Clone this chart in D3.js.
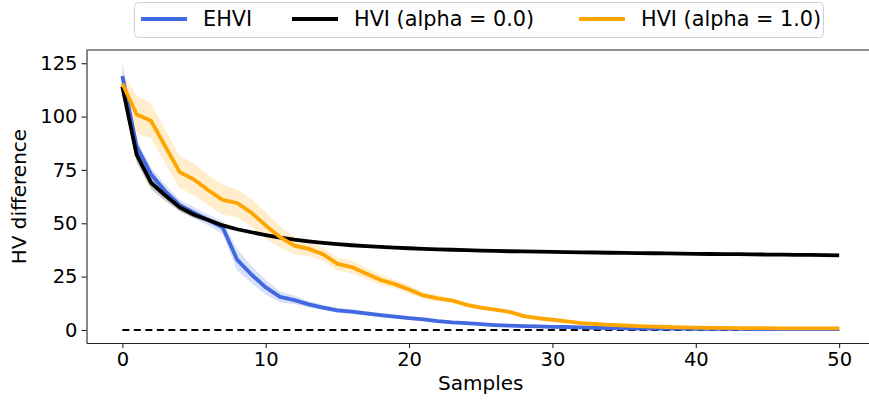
<!DOCTYPE html>
<html>
<head>
<meta charset="utf-8">
<script src="https://cdn.jsdelivr.net/npm/d3@7"></script>
<style>
  body { margin: 0; background: #fff; }
  text { font-family: "DejaVu Sans", sans-serif; fill: #000; }
</style>
</head>
<body>
<div id="chart"></div>
<script>
// samples 0..50
const samples = d3.range(0, 51);

// EHVI mean and half band width
const ehviMean = [119, 86, 73, 65, 58.5, 55, 51.5, 48, 33, 26, 20, 15.5, 14, 12, 10.5, 9.2, 8.6, 7.8, 7, 6.3,
  5.6, 5, 4.2, 3.6, 3.2, 2.7, 2.3, 2.0, 1.8, 1.7, 1.5, 1.4, 1.2, 1.0, 0.9, 0.8, 0.7, 0.7, 0.6, 0.6,
  0.5, 0.5, 0.5, 0.5, 0.4, 0.4, 0.4, 0.4, 0.4, 0.4, 0.4];
const ehviSpread = [6.5, 3, 3, 3, 2.5, 2.5, 2.5, 3, 5, 4, 3.5, 2.5, 2, 1.5, 1.3, 1.2, 1, 1, 0.9, 0.9,
  0.8, 0.8, 0.7, 0.7, 0.6, 0.6, 0.5, 0.5, 0.5, 0.5, 0.4, 0.4, 0.4, 0.4, 0.3, 0.3, 0.3, 0.3, 0.3, 0.3,
  0.3, 0.3, 0.3, 0.3, 0.3, 0.3, 0.3, 0.3, 0.3, 0.3, 0.3];

// HVI alpha = 0.0
const hvi0Mean = [114, 82, 69, 63, 57.5, 54, 51.5, 49, 47.2, 45.8, 44.5, 43.3, 42.3, 41.5, 40.8, 40.2, 39.7, 39.3, 38.9, 38.6,
  38.3, 38.0, 37.8, 37.6, 37.4, 37.2, 37.1, 36.9, 36.8, 36.7, 36.6, 36.5, 36.4, 36.3, 36.2, 36.1, 36.0, 35.95, 35.9, 35.8,
  35.7, 35.6, 35.55, 35.5, 35.4, 35.35, 35.3, 35.2, 35.15, 35.1, 35.0];
const hvi0Spread = [4, 3.5, 3, 2.5, 2, 1.5, 1.2, 1, 0.8, 0.7, 0.6, 0.5, 0.5, 0.4, 0.4, 0.4, 0.3, 0.3, 0.3, 0.3,
  0.3, 0.3, 0.3, 0.3, 0.3, 0.3, 0.3, 0.3, 0.3, 0.3, 0.3, 0.3, 0.3, 0.3, 0.3, 0.3, 0.3, 0.3, 0.3, 0.3,
  0.3, 0.3, 0.3, 0.3, 0.3, 0.3, 0.3, 0.3, 0.3, 0.3, 0.3];

// HVI alpha = 1.0
const hvi1Mean = [115.5, 101, 98, 86, 74, 70.5, 65.5, 61, 59.5, 55, 49, 43.5, 39.5, 38, 35.5, 31, 29.5, 26.5, 23.5, 21.5,
  19, 16.2, 14.8, 13.8, 11.8, 10.5, 9.5, 8.5, 6.5, 5.5, 4.8, 4, 3.2, 2.8, 2.4, 2.1, 1.8, 1.6, 1.4, 1.2,
  1.1, 1.0, 1.0, 0.9, 0.9, 0.9, 0.8, 0.8, 0.8, 0.8, 0.8];
const hvi1Spread = [5, 9, 8, 8, 7.5, 7.5, 7, 7, 6.5, 6.5, 6, 5, 4, 3.5, 3, 3, 3, 2.5, 2.5, 2,
  2, 1.5, 1.5, 1.2, 1, 1, 0.9, 0.8, 0.8, 0.7, 0.7, 0.6, 0.6, 0.5, 0.5, 0.5, 0.5, 0.5, 0.5, 0.5,
  0.5, 0.5, 0.5, 0.5, 0.5, 0.5, 0.5, 0.5, 0.5, 0.5, 0.5];

const seriesNames = ["EHVI", "HVI (alpha = 0.0)", "HVI (alpha = 1.0)"];
const xTicks = [0, 10, 20, 30, 40, 50];
const yTicks = [0, 25, 50, 75, 100, 125];

const CHART = {
    width: 869,
    height: 405,
    left: 86.5,
    right: 875,
    top: 50,
    bottom: 343,
    colors: ["#4169e1", "#000000", "#ffa500"],
    lineWidth: 3.8
};

const svg = d3.select("#chart")
    .append("svg")
    .attr("width", CHART.width)
    .attr("height", CHART.height);

const xScale = d3.scaleLinear()
    .domain([-2.5, 52.5])
    .range([CHART.left, CHART.right]);

const yScale = d3.scaleLinear()
    .domain([-6.1, 131.2])
    .range([CHART.bottom, CHART.top]);

const series = [
    { name: seriesNames[0], mean: ehviMean, spread: ehviSpread, color: CHART.colors[0] },
    { name: seriesNames[1], mean: hvi0Mean, spread: hvi0Spread, color: CHART.colors[1] },
    { name: seriesNames[2], mean: hvi1Mean, spread: hvi1Spread, color: CHART.colors[2] }
];

svg.append("defs").append("clipPath").attr("id", "plot-clip")
    .append("rect")
    .attr("x", CHART.left).attr("y", CHART.top)
    .attr("width", CHART.right - CHART.left)
    .attr("height", CHART.bottom - CHART.top);

const plot = svg.append("g").attr("clip-path", "url(#plot-clip)");

const area = d3.area()
    .x((d, i) => xScale(samples[i]))
    .y0(d => yScale(d.lo))
    .y1(d => yScale(d.hi));

const line = d3.line()
    .x((d, i) => xScale(samples[i]))
    .y(d => yScale(d));

// bands first
series.forEach(s => {
    const band = s.mean.map((m, i) => ({ lo: m - s.spread[i], hi: m + s.spread[i] }));
    plot.append("path")
        .datum(band)
        .attr("d", area)
        .attr("fill", s.color)
        .attr("fill-opacity", 0.2);
});

// zero reference line
plot.append("path")
    .datum(samples.map(() => 0))
    .attr("d", line)
    .attr("fill", "none")
    .attr("stroke", "#000")
    .attr("stroke-width", 2)
    .attr("stroke-dasharray", "7 4.5");

series.forEach(s => {
    plot.append("path")
        .datum(s.mean)
        .attr("d", line)
        .attr("fill", "none")
        .attr("stroke", s.color)
        .attr("stroke-width", CHART.lineWidth)
        .attr("stroke-linejoin", "round");
});

// axes
const xAxis = svg.append("g")
    .attr("transform", `translate(0, ${CHART.bottom})`)
    .call(d3.axisBottom(xScale).tickValues(xTicks).tickSize(5).tickPadding(4).tickSizeOuter(0));

const yAxis = svg.append("g")
    .attr("transform", `translate(${CHART.left}, 0)`)
    .call(d3.axisLeft(yScale).tickValues(yTicks).tickSize(5).tickPadding(4).tickSizeOuter(0));

[xAxis, yAxis].forEach(ax => {
    ax.select(".domain").attr("stroke", "#222").attr("stroke-width", 1.1);
    ax.selectAll(".tick line").attr("stroke", "#222").attr("stroke-width", 1.1);
    ax.selectAll(".tick text")
        .style("font-family", "DejaVu Sans, sans-serif")
        .style("font-size", "19.5px")
        .attr("fill", "#000");
});

// top spine
svg.append("line")
    .attr("x1", CHART.left).attr("x2", CHART.right)
    .attr("y1", CHART.top).attr("y2", CHART.top)
    .attr("stroke", "#222").attr("stroke-width", 1.1);

svg.append("text")
    .attr("x", xScale(25))
    .attr("y", 390)
    .attr("text-anchor", "middle")
    .style("font-size", "20px")
    .text("Samples");

svg.append("text")
    .attr("transform", `translate(26, ${yScale(62.5)}) rotate(-90)`)
    .attr("text-anchor", "middle")
    .style("font-size", "20px")
    .text("HV difference");

// legend
const legend = svg.append("g");
legend.append("rect")
    .attr("x", 134.5).attr("y", 2.5)
    .attr("width", 689).attr("height", 35)
    .attr("rx", 4)
    .attr("fill", "#fff").attr("fill-opacity", 0.8)
    .attr("stroke", "#d0d0d0");

const legendX = [141, 292, 579];
series.forEach((s, i) => {
    legend.append("line")
        .attr("x1", legendX[i]).attr("x2", legendX[i] + 46)
        .attr("y1", 19).attr("y2", 19)
        .attr("stroke", s.color)
        .attr("stroke-width", CHART.lineWidth);
    legend.append("text")
        .attr("x", legendX[i] + 62)
        .attr("y", 26)
        .style("font-size", "20.8px")
        .text(s.name);
});
</script>
</body>
</html>
